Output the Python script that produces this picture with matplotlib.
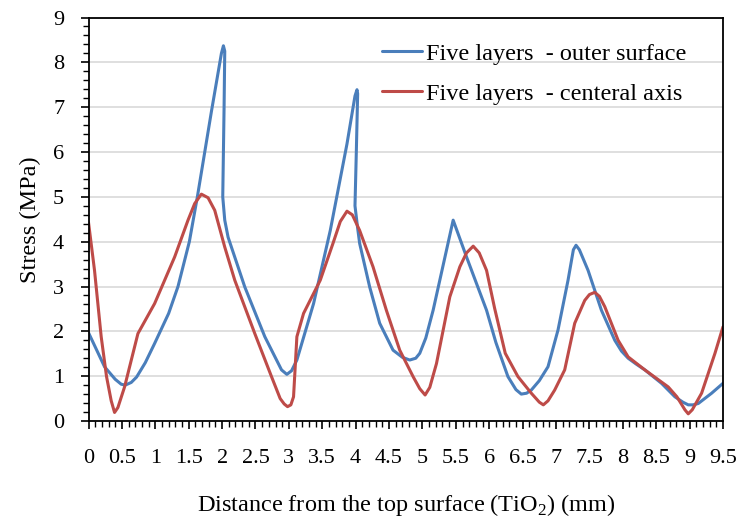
import numpy as np
import matplotlib
matplotlib.use("Agg")
import matplotlib.pyplot as plt
from matplotlib.ticker import MultipleLocator

plt.rcParams['font.family'] = ['Liberation Serif', 'DejaVu Serif']
plt.rcParams['mathtext.fontset'] = 'custom'
plt.rcParams['mathtext.rm'] = 'Liberation Serif'

# stress along the specimen, outer surface (blue) and central axis (red)
outer_x = [0, 0.24, 0.4, 0.49, 0.55, 0.64, 0.72, 0.85, 0.99, 1.2, 1.34, 1.51,
           1.63, 1.84, 1.99, 2.02, 2.04, 2.03, 2.01, 2.04, 2.09, 2.34,
           2.64, 2.89, 2.97, 3.04, 3.12, 3.37, 3.62, 3.87, 3.99, 4.02, 4.03,
           4.01, 3.99, 4.03, 4.06, 4.21, 4.36, 4.56, 4.7, 4.81, 4.9, 4.96,
           5.05, 5.16, 5.46, 5.66, 5.96, 6.1, 6.28, 6.4, 6.48, 6.56, 6.63,
           6.75, 6.88, 7.03, 7.18, 7.26, 7.3, 7.35, 7.48, 7.68, 7.88, 7.98,
           8.08, 8.2, 8.33, 8.58, 8.78, 8.9, 8.98, 9.05, 9.13, 9.33, 9.5]
outer_y = [1.97, 1.21, 0.93, 0.82, 0.8, 0.86, 0.98, 1.3, 1.73, 2.4, 3.0, 4.0,
           5.0, 6.9, 8.2, 8.37, 8.25, 7.0, 5.0, 4.48, 4.1, 2.99,
           1.88, 1.14, 1.04, 1.12, 1.36, 2.62, 4.25, 6.18, 7.25, 7.39, 7.3,
           6.0, 4.8, 4.3, 3.96, 2.99, 2.18, 1.58, 1.42, 1.36, 1.40, 1.51,
           1.85, 2.47, 4.48, 3.66, 2.47, 1.75, 0.99, 0.7, 0.6, 0.62, 0.69,
           0.9, 1.21, 2.03, 3.14, 3.82, 3.92, 3.82, 3.36, 2.47, 1.8, 1.56,
           1.40, 1.27, 1.14, 0.84, 0.54, 0.42, 0.36, 0.36, 0.39, 0.62, 0.84]

axis_x = [0, 0.09, 0.19, 0.27, 0.34, 0.39, 0.44, 0.54, 0.74, 0.99, 1.29,
          1.49, 1.59, 1.69, 1.79, 1.89, 2.04, 2.19, 2.49, 2.74, 2.87, 2.93,
          2.98, 3.03, 3.07, 3.12, 3.22, 3.47, 3.66, 3.77, 3.87, 3.95, 4.06,
          4.26, 4.46, 4.66, 4.86, 4.96, 5.04, 5.11, 5.21, 5.41, 5.56, 5.66,
          5.76, 5.85, 5.96, 6.08, 6.24, 6.43, 6.63, 6.75, 6.81, 6.88, 6.98,
          7.13, 7.28, 7.43, 7.5, 7.58, 7.65, 7.73, 7.93, 8.08, 8.33, 8.68,
          8.81, 8.93, 8.98, 9.04, 9.18, 9.38, 9.5]
axis_y = [4.43, 3.36, 1.88, 0.99, 0.45, 0.19, 0.3, 0.76, 1.95, 2.62, 3.66,
          4.48, 4.85, 5.06, 4.98, 4.70, 3.88, 3.14, 1.95, 0.99, 0.5, 0.38,
          0.32, 0.36, 0.54, 1.88, 2.4, 3.14, 3.96, 4.45, 4.68, 4.6, 4.25,
          3.44, 2.47, 1.58, 0.99, 0.72, 0.58, 0.75, 1.28, 2.77, 3.44, 3.75,
          3.9, 3.75, 3.36, 2.52, 1.51, 0.99, 0.62, 0.42, 0.36, 0.45, 0.69,
          1.14, 2.18, 2.69, 2.82, 2.87, 2.78, 2.55, 1.8, 1.43, 1.14, 0.76,
          0.54, 0.25, 0.16, 0.25, 0.62, 1.51, 2.1]

x_ticks = [0, 0.5, 1, 1.5, 2, 2.5, 3, 3.5, 4, 4.5, 5, 5.5, 6, 6.5, 7, 7.5, 8,
           8.5, 9, 9.5]
x_labels = ['0', '0.5', '1', '1.5', '2', '2.5', '3', '3.5', '4', '4.5', '5',
            '5.5', '6', '6.5', '7', '7.5', '8', '8.5', '9', '9.5']
y_ticks = [0, 1, 2, 3, 4, 5, 6, 7, 8, 9]

labels = ['Five layers  - outer surface', 'Five layers  - centeral axis']
colors = ['#4A7EBB', '#BE4B48']

fig = plt.figure(figsize=(7.4, 5.17), dpi=100)
ax = fig.add_axes([0.1196, 0.1857, 0.8574, 0.7804])

ax.plot(outer_x, outer_y, color=colors[0], lw=2.2, label=labels[0],
        solid_joinstyle='round', solid_capstyle='round')
ax.plot(axis_x, axis_y, color=colors[1], lw=2.2, label=labels[1],
        solid_joinstyle='round', solid_capstyle='round')

ax.set_xlim(0, 9.5)
ax.set_ylim(0, 9)
ax.set_xticks(x_ticks)
ax.set_xticklabels(x_labels)
ax.set_yticks(y_ticks)
ax.xaxis.set_minor_locator(MultipleLocator(0.1))
ax.yaxis.set_minor_locator(MultipleLocator(0.2))

ax.grid(axis='y', which='major', color='#D9D9D9', lw=1.2)
ax.set_axisbelow(True)
for s in ax.spines.values():
    s.set_color('black')
    s.set_linewidth(1.3)

ax.tick_params(axis='both', which='major', length=5.5, width=1.2,
               labelsize=16, direction='out')
ax.tick_params(axis='both', which='minor', length=4, width=1.0,
               direction='out')
ax.tick_params(axis='x', which='major', pad=15)
ax.tick_params(axis='y', which='major', pad=12)

ax.set_xlabel('Distance from the top surface (TiO$_2$) (mm)', fontsize=17.5)
ax.set_ylabel('Stress (MPa)', fontsize=17.5)
ax.xaxis.set_label_coords(0.5, -0.175)
ax.yaxis.set_label_coords(-0.075, 0.5)

fig.legend(loc='upper left', bbox_to_anchor=(0.487, 0.96), frameon=False,
           fontsize=17.5, handlelength=1.65, handletextpad=0.15,
           labelspacing=0.75)

fig.savefig('out.png', dpi=100)
